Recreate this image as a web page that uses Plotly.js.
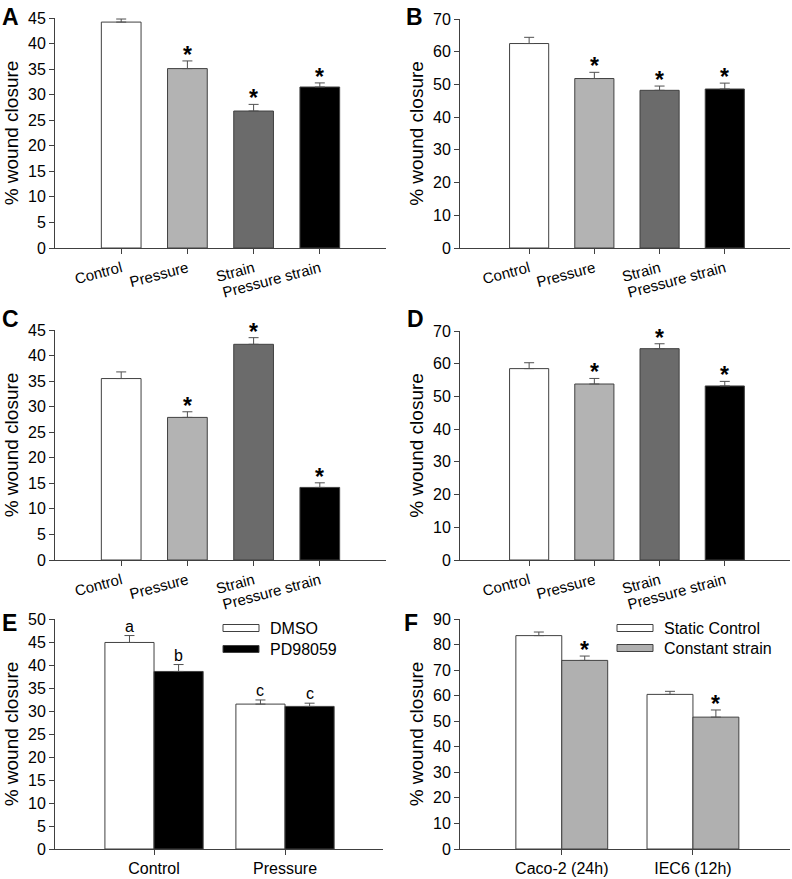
<!DOCTYPE html>
<html>
<head>
<meta charset="utf-8">
<script src="https://cdn.plot.ly/plotly-3.0.1.min.js"></script>
<style>
  html, body { margin: 0; padding: 0; background: #fff; }
  #chart { width: 792px; height: 879px; }
</style>
</head>
<body>
<div id="chart"></div>
<script>
var W = 792, H = 879;

// panels A-D: four treatments
var treatments = ['Control', 'Pressure', 'Strain', 'Pressure strain'];
var treatColors = ['#ffffff', '#b3b3b3', '#6b6b6b', '#000000'];

var valsA = [44.2, 35.1, 26.8, 31.5];
var errA  = [0.6, 1.5, 1.3, 0.8];
var starA = ['', '*', '*', '*'];

var valsB = [62.5, 51.8, 48.2, 48.6];
var errB  = [1.9, 1.9, 1.3, 1.8];
var starB = ['', '*', '*', '*'];

var valsC = [35.5, 27.9, 42.2, 14.2];
var errC  = [1.3, 1.1, 1.3, 0.9];
var starC = ['', '*', '*', '*'];

var valsD = [58.5, 53.8, 64.6, 53.2];
var errD  = [1.8, 1.7, 1.5, 1.4];
var starD = ['', '*', '*', '*'];

// panel E
var groupsE = ['Control', 'Pressure'];
var dmso    = [44.9, 31.5];
var dmsoErr = [1.5, 0.9];
var dmsoLbl = ['a', 'c'];
var pd      = [38.6, 31.0];
var pdErr   = [1.5, 0.7];
var pdLbl   = ['b', 'c'];

// panel F
var groupsF    = ['Caco-2 (24h)', 'IEC6 (12h)'];
var staticCtl  = [83.5, 60.5];
var staticErr  = [1.4, 1.2];
var constant   = [73.8, 51.6];
var constErr   = [1.7, 2.8];
var constStar  = ['*', '*'];

var font = 'Liberation Sans, Arial, sans-serif';

// pixel -> paper helpers (margins are zero)
function px(x) { return x / W; }
function py(y) { return 1 - y / H; }

var data = [];
var annotations = [];
var shapes = [];

function barTrace(xa, ya, x, y, err, colors, width, offset) {
  var t = {
    type: 'bar', x: x, y: y, xaxis: xa, yaxis: ya,
    marker: { color: colors, line: { color: '#404040', width: 1 } },
    error_y: { type: 'data', array: err, arrayminus: err.map(function () { return 0; }),
               symmetric: false, color: '#505050', thickness: 1, width: 5 },
    width: width, showlegend: false, hoverinfo: 'x+y'
  };
  if (offset !== undefined) t.offset = offset;
  return t;
}

function marks(xa, ya, xs, y, err, labels, bold) {
  labels.forEach(function (s, i) {
    if (!s) return;
    annotations.push({
      xref: xa, yref: ya, x: xs[i], y: y[i] + err[i], text: bold ? '<b>' + s + '</b>' : s,
      showarrow: false, yanchor: 'bottom', yshift: bold ? -9 : -1,
      font: { family: font, size: bold ? 23 : 16, color: '#000' }
    });
  });
}

function panelLetter(t, x, y) {
  annotations.push({ xref: 'paper', yref: 'paper', x: px(x), y: py(y), xanchor: 'left', yanchor: 'top',
    text: '<b>' + t + '</b>', showarrow: false, font: { family: font, size: 23, color: '#000' } });
}

// A-D
var simple = [
  ['x', 'y', valsA, errA, starA],
  ['x2', 'y2', valsB, errB, starB],
  ['x3', 'y3', valsC, errC, starC],
  ['x4', 'y4', valsD, errD, starD]
];
simple.forEach(function (p) {
  data.push(barTrace(p[0], p[1], treatments, p[2], p[3], treatColors, 0.6));
  marks(p[0], p[1], [0, 1, 2, 3], p[2], p[3], p[4], true);
});

// E
data.push(barTrace('x5', 'y5', groupsE, dmso, dmsoErr, '#ffffff', 0.375, -0.375));
data.push(barTrace('x5', 'y5', groupsE, pd, pdErr, '#000000', 0.375, 0));
marks('x5', 'y5', [-0.1875, 0.8125], dmso, dmsoErr, dmsoLbl, false);
marks('x5', 'y5', [0.1875, 1.1875], pd, pdErr, pdLbl, false);

// F
data.push(barTrace('x6', 'y6', groupsF, staticCtl, staticErr, '#ffffff', 0.35, -0.35));
data.push(barTrace('x6', 'y6', groupsF, constant, constErr, '#b0b0b0', 0.35, 0));
marks('x6', 'y6', [0.175, 1.175], constant, constErr, constStar, true);

// legends drawn as wide boxes like the original
function legendItem(x0, y0, fill, label) {
  shapes.push({ type: 'rect', xref: 'paper', yref: 'paper', x0: px(x0), x1: px(x0 + 36),
    y0: py(y0), y1: py(y0 + 7), fillcolor: fill, line: { color: '#404040', width: 1 } });
  annotations.push({ xref: 'paper', yref: 'paper', x: px(x0 + 45), y: py(y0 + 3.5), xanchor: 'left',
    yanchor: 'middle', text: label, showarrow: false, font: { family: font, size: 16, color: '#000' } });
}
legendItem(223, 624.5, '#ffffff', 'DMSO');
legendItem(223, 645.5, '#000000', 'PD98059');
legendItem(617, 624.5, '#ffffff', 'Static Control');
legendItem(617, 644.5, '#b0b0b0', 'Constant strain');

panelLetter('A', 0, 2);
panelLetter('B', 404, 2);
panelLetter('C', 0, 304);
panelLetter('D', 405, 304);
panelLetter('E', 0, 608);
panelLetter('F', 402, 608);

function xax(x0, x1, range, angle, anchor) {
  return {
    domain: [px(x0), px(x1)], range: range, anchor: anchor,
    showline: true, linecolor: '#404040', linewidth: 1,
    ticks: 'outside', ticklen: 5, tickcolor: '#404040',
    tickangle: angle, showgrid: false, zeroline: false, fixedrange: true,
    tickfont: { family: font, size: angle ? 15 : 16, color: '#000' }
  };
}
function yax(y0, y1, range, dtick, anchor) {
  return {
    domain: [py(y1), py(y0)], range: range, dtick: dtick, anchor: anchor,
    showline: true, linecolor: '#404040', linewidth: 1,
    ticks: 'outside', ticklen: 5, tickcolor: '#404040',
    showgrid: false, zeroline: false, fixedrange: true,
    tickfont: { family: font, size: 16, color: '#000' },
    title: { text: '% wound closure', font: { family: font, size: 19, color: '#000' }, standoff: 4 }
  };
}

var layout = {
  width: W, height: H,
  margin: { l: 0, r: 0, t: 0, b: 0 },
  paper_bgcolor: '#fff', plot_bgcolor: '#fff',
  showlegend: false,
  barmode: 'group',
  xaxis:  xax(55, 386, [-1, 4], -15, 'y'),
  yaxis:  yax(18, 248, [0, 45], 5, 'x'),
  xaxis2: xax(460, 790, [-1.06, 4], -15, 'y2'),
  yaxis2: yax(19, 248, [0, 70], 10, 'x2'),
  xaxis3: xax(55, 386, [-1, 4], -15, 'y3'),
  yaxis3: yax(330, 560, [0, 45], 5, 'x3'),
  xaxis4: xax(460, 790, [-1.06, 4], -15, 'y4'),
  yaxis4: yax(331, 560, [0, 70], 10, 'x4'),
  xaxis5: xax(55, 383, [-0.756, 1.748], 0, 'y5'),
  yaxis5: yax(619, 849, [0, 50], 5, 'x5'),
  xaxis6: xax(460, 790, [-0.776, 1.74], 0, 'y6'),
  yaxis6: yax(619, 849, [0, 90], 10, 'x6'),
  annotations: annotations,
  shapes: shapes
};

Plotly.newPlot('chart', data, layout, { displayModeBar: false, staticPlot: true });
</script>
</body>
</html>
